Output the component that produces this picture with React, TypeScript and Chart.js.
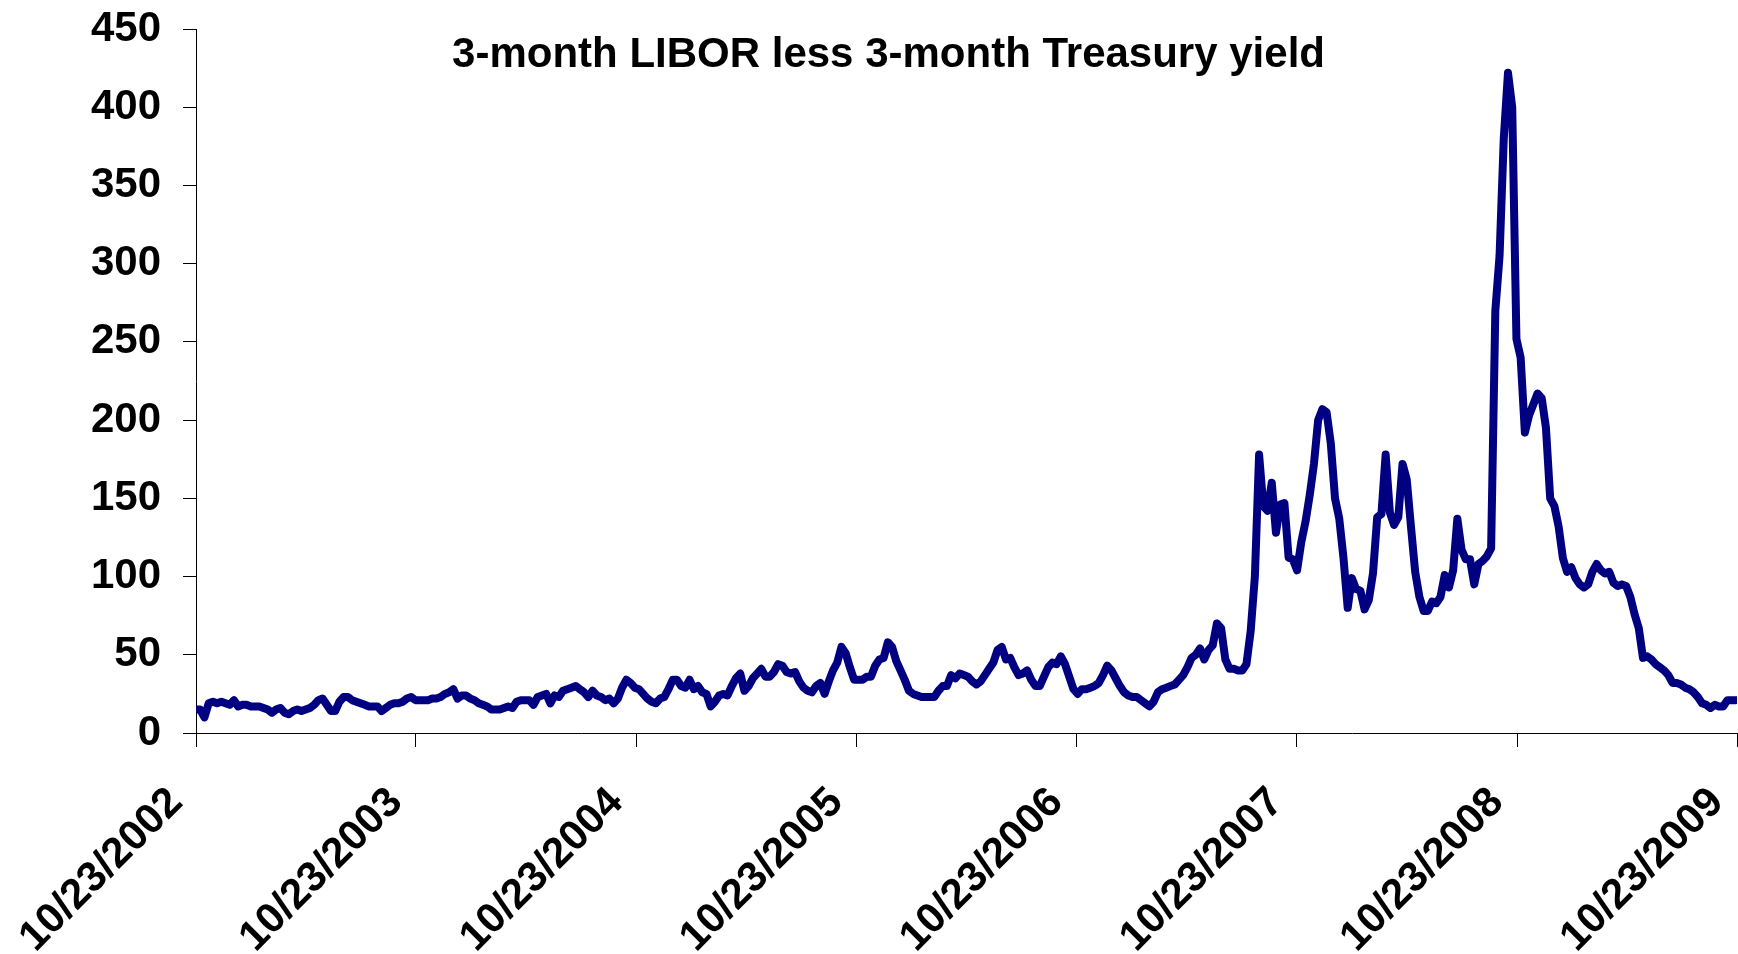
import { useEffect, useRef } from "react";
import { Chart, registerables } from "chart.js";

Chart.register(...registerables);

const TITLE = "3-month LIBOR less 3-month Treasury yield";

const tickLabels = [
  "10/23/2002",
  "10/23/2003",
  "10/23/2004",
  "10/23/2005",
  "10/23/2006",
  "10/23/2007",
  "10/23/2008",
  "10/23/2009",
];
// days since 10/23/2002 for each tick label
const tickDays = [0, 365, 731, 1096, 1461, 1826, 2192, 2557];

// weekly spread values (basis points), starting 10/23/2002
const weeklySpread = [
  15, 15, 10, 19, 20, 19, 20, 19, 18, 21,
  17, 18, 18, 17, 17, 17, 16, 15, 13, 15,
  16, 13, 12, 14, 15, 14, 15, 16, 18, 21,
  22, 18, 14, 14, 20, 23, 23, 21, 20, 19,
  18, 17, 17, 17, 14, 16, 18, 19, 19, 20,
  22, 23, 21, 21, 21, 21, 22, 22, 23, 25,
  26, 28, 22, 24, 24, 22, 21, 19, 18, 17,
  15, 15, 15, 16, 17, 16, 20, 21, 21, 21,
  18, 23, 24, 25, 19, 24, 23, 27, 28, 29,
  30, 28, 26, 23, 27, 24, 23, 21, 22, 19,
  22, 29, 34, 32, 29, 28, 25, 22, 20, 19,
  22, 23, 28, 34, 34, 30, 29, 34, 28, 30,
  26, 25, 17, 20, 24, 25, 24, 30, 35, 38,
  27, 30, 35, 38, 41, 36, 36, 39, 44, 43,
  39, 38, 39, 33, 29, 27, 26, 30, 32, 25,
  33, 40, 45, 55, 51, 42, 34, 34, 34, 36,
  36, 43, 47, 48, 58, 55, 46, 40, 34, 27,
  25, 24, 23, 23, 23, 23, 27, 30, 30, 37,
  35, 38, 37, 36, 33, 31, 33, 37, 41, 45,
  53, 55, 47, 48, 42, 37, 38, 40, 34, 30,
  30, 36, 42, 45, 44, 49, 44, 36, 28, 25,
  28, 28, 29, 30, 32, 37, 43, 40, 35, 30,
  26, 24, 23, 23, 21, 19, 17, 20, 26, 28,
  29, 30, 31, 34, 37, 42, 48, 50, 54, 47,
  53, 56, 70, 67, 47, 41, 41, 40, 40, 44,
  65, 100, 178, 145, 142, 160, 128, 146, 147, 112,
  111, 104, 122, 135, 152, 172, 200, 207, 205, 185,
  150, 137, 112, 80, 99, 92, 91, 79, 85, 102,
  138, 140, 178, 141, 133, 138, 172, 162, 132, 103,
  87, 78, 78, 84, 83, 87, 101, 93, 104, 137,
  117, 111, 111, 95, 108, 110, 113, 118, 270, 305,
  380, 422, 400, 252, 240, 192, 203, 210, 217, 214,
  195, 150, 145, 132, 112, 103, 106, 99, 95, 93,
  95, 103, 108, 104, 102, 103, 96, 94, 95, 94,
  87, 76, 67, 48, 49, 47, 44, 42, 40, 37,
  32, 32, 31, 29, 28, 26, 23, 19, 18, 16,
  18, 17, 17, 21, 21, 21,
];

const FONT_FAMILY = '"Liberation Sans", Arial, Helvetica, sans-serif';

export default function App() {
  const ref = useRef<HTMLCanvasElement>(null);

  useEffect(() => {
    if (!ref.current) return;
    const points = weeklySpread.map((v, i) => ({ x: i * 7, y: v }));

    const titlePlugin = {
      id: "innerTitle",
      afterDraw(chart: any) {
        const { ctx, chartArea } = chart;
        ctx.save();
        ctx.font = `bold 42px ${FONT_FAMILY}`;
        ctx.fillStyle = "#000";
        ctx.textAlign = "center";
        ctx.textBaseline = "alphabetic";
        ctx.fillText(
          TITLE,
          chartArea.left + chartArea.width * 0.4494,
          chartArea.top + 38
        );
        ctx.restore();
      },
    };

    const tickFont = { family: FONT_FAMILY, size: 42, weight: "bold" as const };

    const chart = new Chart(ref.current, {
      type: "line",
      data: {
        datasets: [
          {
            data: points,
            borderColor: "#000080",
            borderWidth: 8,
            pointRadius: 0,
            tension: 0,
            borderJoinStyle: "round",
            borderCapStyle: "round",
            fill: false,
          },
        ],
      },
      options: {
        animation: false,
        responsive: false,
        maintainAspectRatio: false,
        layout: { padding: { top: 29, right: 1, left: 0, bottom: 0 } },
        plugins: {
          legend: { display: false },
          tooltip: { enabled: false },
          title: { display: false },
        },
        scales: {
          x: {
            type: "linear",
            min: 0,
            max: tickDays[tickDays.length - 1],
            afterBuildTicks: (s: any) => {
              s.ticks = tickDays.map((v) => ({ value: v }));
            },
            afterFit: (s: any) => {
              s.height = 221;
              s.paddingLeft = 0;
              s.paddingRight = 0;
            },
            ticks: {
              autoSkip: false,
              maxRotation: 45,
              minRotation: 45,
              labelOffset: -20,
              padding: 31,
              font: tickFont,
              color: "#000",
              callback: (v: any) => {
                const i = tickDays.indexOf(Number(v));
                return i >= 0 ? tickLabels[i] : "";
              },
            },
            grid: {
              display: true,
              drawOnChartArea: false,
              drawTicks: true,
              tickLength: 14,
              color: "#000",
              lineWidth: 1,
            },
            border: { display: true, color: "#000", width: 1 },
          },
          y: {
            min: 0,
            max: 450,
            afterFit: (s: any) => {
              s.width = 196;
              s.paddingTop = 0;
              s.paddingBottom = 0;
            },
            ticks: {
              stepSize: 50,
              padding: 22,
              font: tickFont,
              color: "#000",
            },
            grid: {
              display: true,
              drawOnChartArea: false,
              drawTicks: true,
              tickLength: 13,
              color: "#000",
              lineWidth: 1,
            },
            border: { display: true, color: "#000", width: 1 },
          },
        },
      },
      plugins: [titlePlugin],
    } as any);

    return () => chart.destroy();
  }, []);

  return (
    <div
      style={{
        position: "fixed",
        left: 0,
        top: 0,
        width: 1738,
        height: 954,
        background: "#fff",
      }}
    >
      <canvas
        ref={ref}
        width={1738}
        height={954}
        style={{ display: "block", width: 1738, height: 954 }}
      />
    </div>
  );
}
